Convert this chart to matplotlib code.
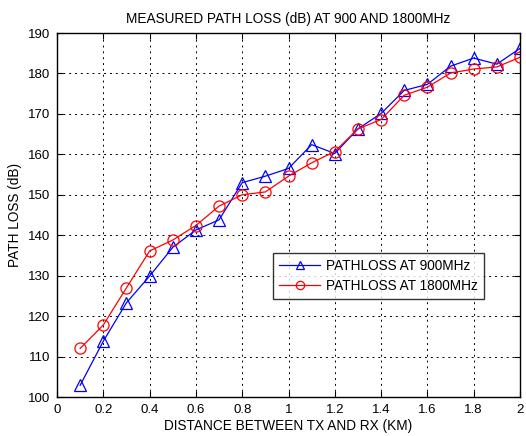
import matplotlib
matplotlib.use("Agg")
import matplotlib.pyplot as plt

plt.rcParams['font.family'] = ['Liberation Sans', 'DejaVu Sans']

distance = [0.1, 0.2, 0.3, 0.4, 0.5, 0.6, 0.7, 0.8, 0.9, 1.0,
            1.1, 1.2, 1.3, 1.4, 1.5, 1.6, 1.7, 1.8, 1.9, 2.0]
loss_900 = [102.9, 113.8, 123.3, 129.9, 137.0, 141.3, 143.8, 153.0, 154.6, 156.5,
            162.4, 160.2, 166.3, 170.1, 175.8, 177.3, 181.8, 183.8, 182.3, 186.2]
loss_1800 = [112.0, 117.8, 127.0, 136.1, 138.8, 142.4, 147.2, 150.0, 150.7, 154.6,
             157.9, 160.7, 166.3, 168.6, 174.6, 176.6, 180.1, 181.1, 181.6, 184.0]

xticks = [0, 0.2, 0.4, 0.6, 0.8, 1, 1.2, 1.4, 1.6, 1.8, 2]
xticklabels = ['0', '0.2', '0.4', '0.6', '0.8', '1', '1.2', '1.4', '1.6', '1.8', '2']
yticks = [100, 110, 120, 130, 140, 150, 160, 170, 180, 190]

fig = plt.figure(figsize=(5.26, 4.36), dpi=100)
ax = fig.add_axes([57/526, 1-397/436, (520-57)/526, (397-33)/436])

ax.plot(distance, loss_900, color='#0000ff', lw=0.9, marker='^', ms=8,
        mfc='none', mec='#0000ff', mew=0.9, label='PATHLOSS AT 900MHz')
ax.plot(distance, loss_1800, color='#ff0000', lw=0.9, marker='o', ms=8,
        mfc='none', mec='#ff0000', mew=0.9, label='PATHLOSS AT 1800MHz')

ax.set_xlim(0, 2)
ax.set_ylim(100, 190)
ax.set_xticks(xticks)
ax.set_xticklabels(xticklabels)
ax.set_yticks(yticks)
ax.tick_params(direction='in', length=4, labelsize=9.5, top=True, right=True, width=0.8, pad=5)
ax.grid(True, color='black', linestyle=(0, (2, 4)), linewidth=0.7)
for s in ax.spines.values():
    s.set_linewidth(1.0)

ax.set_title('MEASURED PATH LOSS (dB) AT 900 AND 1800MHz', fontsize=9.8, pad=7)
ax.set_xlabel('DISTANCE BETWEEN TX AND RX (KM)', fontsize=9.8, labelpad=2)
ax.set_ylabel('PATH LOSS (dB)', fontsize=9.8, labelpad=4)

leg = ax.legend(loc='upper left', bbox_to_anchor=((273-57)/463, (397-253)/364),
                fontsize=9.8, frameon=True, fancybox=False, edgecolor='black',
                handlelength=3.0, borderpad=0.45, labelspacing=0.42,
                handletextpad=0.45, borderaxespad=0, markerscale=0.75)
leg.get_frame().set_linewidth(1.0)

fig.savefig('out.png', dpi=100)
